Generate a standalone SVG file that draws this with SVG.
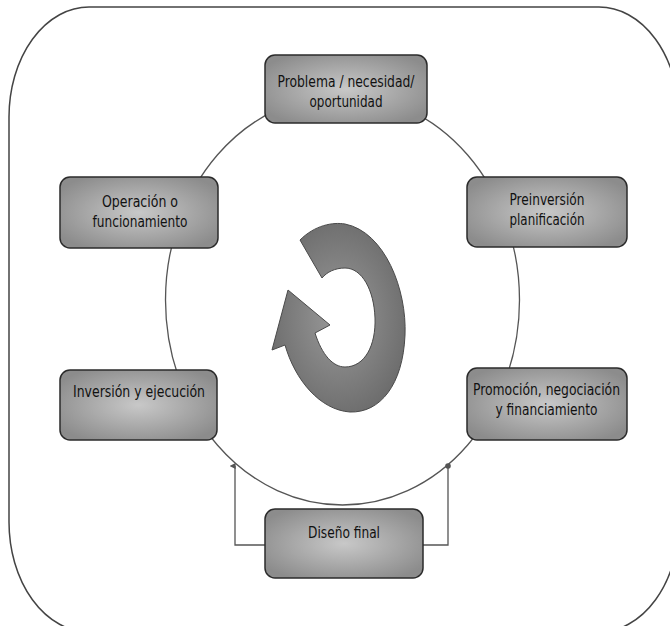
<svg xmlns="http://www.w3.org/2000/svg" width="670" height="626" viewBox="0 0 670 626">
  <style>
    .box { fill: url(#boxFill); stroke: #2b2b2b; stroke-width: 1.5; }
    .lbl { font-family: "DejaVu Sans Condensed", "DejaVu Sans", sans-serif; font-size: 16px; fill: #111; text-anchor: middle; }
    .wire { fill: none; stroke: #555; stroke-width: 1.3; }
  </style>
  <defs>
    <radialGradient id="boxFill" cx="50%" cy="50%" r="60%">
      <stop offset="0" stop-color="#c8c8c8"/>
      <stop offset="1" stop-color="#8c8c8c"/>
    </radialGradient>
    <radialGradient id="arrowFill" cx="50%" cy="50%" r="55%">
      <stop offset="0" stop-color="#9a9a9a"/>
      <stop offset="1" stop-color="#6c6c6c"/>
    </radialGradient>
    <marker id="tip" viewBox="0 0 10 10" refX="5" refY="9" markerWidth="6" markerHeight="6" orient="auto-start-reverse" markerUnits="userSpaceOnUse">
      <path d="M0,10 L5,0 L10,10 Z" fill="#555"/>
    </marker>
  </defs>

  <!-- outer frame -->
  <rect x="9" y="7" width="670" height="625" rx="80" ry="110" fill="#fff" stroke="#444" stroke-width="1.5"/>

  <!-- connectors -->
  <g id="connectors">
    <ellipse cx="342.5" cy="300" rx="177" ry="205" class="wire"/>
    <polyline points="265,545 235,545 235,466" class="wire" marker-end="url(#tip)"/>
    <polyline points="423,545 448,545 448,467" class="wire"/>
    <circle cx="448" cy="466" r="2.8" fill="#555"/>
  </g>

  <!-- central cycle arrow -->
  <g id="cycle-arrow">
    <path d="M300,240 C315,225 333,222 345,224 C385,232 407,290 405,335 C403,385 380,413 350,412 C320,410 295,380 285,345 L272,350 L288,290 L330,325 L315,333 C322,355 333,367 345,367 C365,367 376,345 375,318 C374,290 362,268 345,268 C335,268 327,272 322,278 Z" fill="url(#arrowFill)" stroke="#4a4a4a" stroke-width="1"/>
  </g>

  <g id="problema">
    <rect x="265" y="55" width="162" height="68" rx="10" class="box"/>
    <text x="346" y="87" class="lbl" textLength="137" lengthAdjust="spacingAndGlyphs">Problema / necesidad/</text>
    <text x="346" y="107" class="lbl" textLength="73" lengthAdjust="spacingAndGlyphs">oportunidad</text>
  </g>

  <g id="preinversion">
    <rect x="467" y="177" width="160" height="70" rx="10" class="box"/>
    <text x="547" y="205" class="lbl" textLength="75" lengthAdjust="spacingAndGlyphs">Preinversión</text>
    <text x="547" y="225" class="lbl" textLength="75" lengthAdjust="spacingAndGlyphs">planificación</text>
  </g>

  <g id="promocion">
    <rect x="467" y="368" width="160" height="72" rx="10" class="box"/>
    <text x="546.5" y="395" class="lbl" textLength="147" lengthAdjust="spacingAndGlyphs">Promoción, negociación</text>
    <text x="546.5" y="415" class="lbl" textLength="102" lengthAdjust="spacingAndGlyphs">y financiamiento</text>
  </g>

  <g id="diseno">
    <rect x="265" y="509" width="158" height="69" rx="10" class="box"/>
    <text x="344" y="538" class="lbl" textLength="72" lengthAdjust="spacingAndGlyphs">Diseño final</text>
  </g>

  <g id="inversion">
    <rect x="60" y="370" width="157" height="70" rx="10" class="box"/>
    <text x="139" y="397" class="lbl" textLength="132" lengthAdjust="spacingAndGlyphs">Inversión y ejecución</text>
  </g>

  <g id="operacion">
    <rect x="60" y="177" width="158" height="71" rx="10" class="box"/>
    <text x="140" y="207" class="lbl" textLength="76" lengthAdjust="spacingAndGlyphs">Operación o</text>
    <text x="140" y="227" class="lbl" textLength="95" lengthAdjust="spacingAndGlyphs">funcionamiento</text>
  </g>
</svg>
